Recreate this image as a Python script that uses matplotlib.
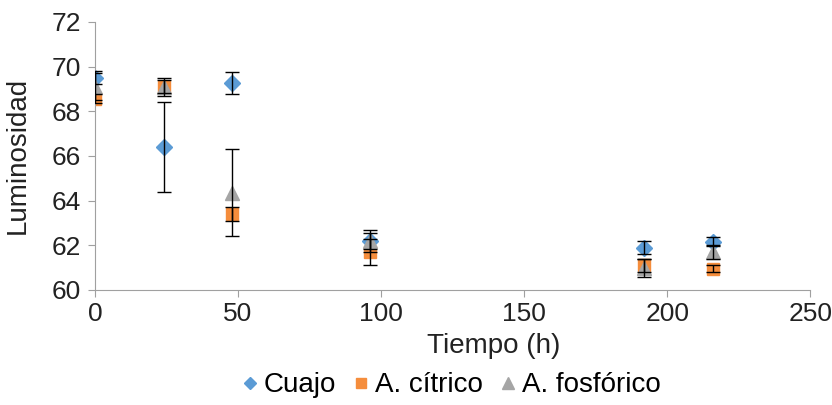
import matplotlib.pyplot as plt
from matplotlib.lines import Line2D

plt.rcParams['font.family'] = ['Liberation Sans', 'DejaVu Sans']

tiempo = [0, 24, 48, 96, 192, 216]

cuajo = [69.5, 66.4, 69.25, 62.2, 61.9, 62.15]
cuajo_err = [0.3, 2.0, 0.5, 0.5, 0.3, 0.2]

citrico = [68.55, 69.1, 63.4, 61.7, 61.1, 60.95]
citrico_err = [0.2, 0.3, 0.3, 0.6, 0.3, 0.15]

fosforico = [69.1, 69.1, 64.35, 62.2, 61.0, 61.7]
fosforico_err = [0.6, 0.4, 1.95, 0.35, 0.4, 0.3]

labels = ['Cuajo', 'A. cítrico', 'A. fosfórico']
colors = ['#5b9bd5', '#f58d3c', '#a5a5a5']
markers = ['D', 's', '^']

fig = plt.figure(figsize=(8.32, 4.05), dpi=100)
ax = fig.add_axes([0.114, 0.284, 0.86, 0.662])

series = [(cuajo, cuajo_err), (citrico, citrico_err), (fosforico, fosforico_err)]
sizes = [8, 9, 10]
for (vals, err), c, m, s in zip(series, colors, markers, sizes):
    ax.plot(tiempo, vals, linestyle='none', marker=m, color=c,
            markersize=s, markeredgecolor=c, zorder=2)
    ax.errorbar(tiempo, vals, yerr=err, fmt='none', ecolor='black',
                elinewidth=1, capsize=5, capthick=1, zorder=3)

ax.set_xlim(0, 250)
ax.set_ylim(60, 72)
ax.set_xticks(range(0, 251, 50))
ax.set_yticks(range(60, 73, 2))
for side in ['top', 'right']:
    ax.spines[side].set_visible(False)
for side in ['left', 'bottom']:
    ax.spines[side].set_color('#a0a0a0')
ax.tick_params(axis='both', colors='#a0a0a0', labelcolor='#222222',
               labelsize=19, length=5)
ax.tick_params(axis='y', pad=5)

ax.set_xlabel('Tiempo (h)', fontsize=20, color='#222222')
ax.xaxis.set_label_coords(0.558, -0.16)
ax.set_ylabel('Luminosidad', fontsize=20, color='#222222')
ax.yaxis.set_label_coords(-0.09, 0.5)

handles = [Line2D([], [], linestyle='none', marker=m, color=c, markersize=s * 0.8)
           for c, m, s in zip(colors, markers, sizes)]
ax.legend(handles, labels, loc='upper center', bbox_to_anchor=(0.494, -0.235),
          ncol=3, frameon=False, fontsize=20, handletextpad=0.0,
          columnspacing=0.4, handlelength=1.0, borderpad=0.2)

fig.savefig('out.png', dpi=100)
